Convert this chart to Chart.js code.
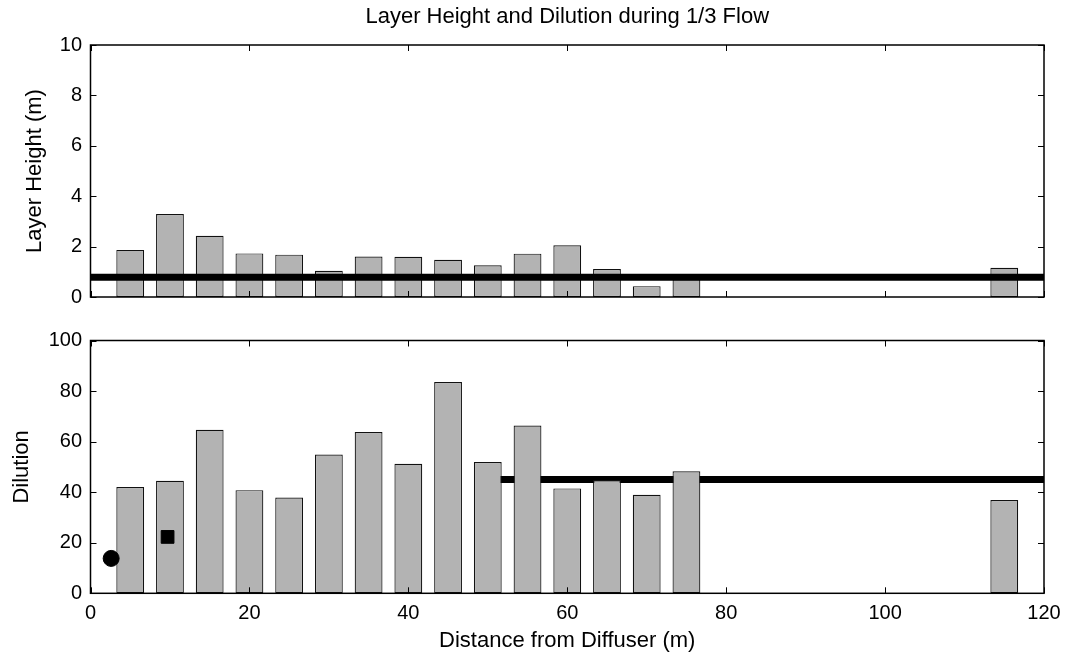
<!DOCTYPE html>
<html lang="en">
<head>
<meta charset="UTF-8">
<title>Layer Height and Dilution during 1/3 Flow</title>
<script src="https://cdn.jsdelivr.net/npm/chart.js"></script>
<style>
  html, body { margin: 0; padding: 0; background: #fff; }
  #wrap { position: relative; width: 1067px; height: 656px; }
  #wrap canvas { position: absolute; left: 0; }
  #heightChart { top: 0; }
  #dilutionChart { top: 320px; }
</style>
</head>
<body>
<div id="wrap">
  <canvas id="heightChart" width="1067" height="320"></canvas>
  <canvas id="dilutionChart" width="1067" height="336"></canvas>
</div>
<script>
// measurement stations along the outfall (m)
const distance    = [5, 10, 15, 20, 25, 30, 35, 40, 45, 50, 55, 60, 65, 70, 75, 80, 85, 90, 95, 100, 105, 110, 115];
const layerHeight = [1.87, 3.29, 2.43, 1.73, 1.68, 1.04, 1.61, 1.60, 1.48, 1.26, 1.72, 2.05, 1.11, 0.43, 0.70, 0, 0, 0, 0, 0, 0, 0, 1.16];
const dilution    = [42.0, 44.5, 64.7, 40.8, 37.9, 54.9, 63.8, 51.2, 83.6, 51.9, 66.4, 41.5, 44.8, 39.0, 48.3, 0, 0, 0, 0, 0, 0, 0, 36.9];

// predicted values (horizontal lines)
const predHeight      = 0.78;
const predHeightX     = [0, 120];
const predDilution    = 45;
const predDilutionX   = [50, 120];

// near-field points [x, y]
const circlePoint = [2.6, 13.8];
const squarePoint = [9.7, 22.3];

const xTicks        = [0, 20, 40, 60, 80, 100, 120];
const heightTicks   = [0, 2, 4, 6, 8, 10];
const dilutionTicks = [0, 20, 40, 60, 80, 100];

Chart.defaults.font.family = '"Liberation Sans", Arial, sans-serif';
Chart.defaults.color = '#000';

const BAR_FILL = '#b3b3b3';
const TICK_LEN = 6;

// box around the plot area with inward tick marks on all four sides
const framePlugin = {
  id: 'frame',
  afterDatasetsDraw(chart) {
    const { ctx, chartArea: a, scales } = chart;
    ctx.save();
    ctx.strokeStyle = '#000';
    ctx.lineWidth = 1;
    ctx.beginPath();
    scales.x.ticks.forEach(t => {
      const px = Math.round(scales.x.getPixelForValue(t.value)) + 0.5;
      ctx.moveTo(px, a.bottom); ctx.lineTo(px, a.bottom - TICK_LEN);
      ctx.moveTo(px, a.top);    ctx.lineTo(px, a.top + TICK_LEN);
    });
    scales.y.ticks.forEach(t => {
      const py = Math.round(scales.y.getPixelForValue(t.value)) + 0.5;
      ctx.moveTo(a.left, py);  ctx.lineTo(a.left + TICK_LEN, py);
      ctx.moveTo(a.right, py); ctx.lineTo(a.right - TICK_LEN, py);
    });
    ctx.stroke();
    ctx.lineWidth = 1.5;
    ctx.strokeRect(a.left, a.top, a.right - a.left, a.bottom - a.top);
    ctx.restore();
  }
};

// figure title centred over the plot area
const plotTitlePlugin = {
  id: 'plotTitle',
  afterDraw(chart, args, opts) {
    if (!opts.text) return;
    const { ctx, chartArea: a } = chart;
    ctx.save();
    ctx.font = opts.size + 'px ' + Chart.defaults.font.family;
    ctx.fillStyle = '#000';
    ctx.textAlign = 'center';
    ctx.textBaseline = 'middle';
    ctx.fillText(opts.text, (a.left + a.right) / 2, opts.y);
    ctx.restore();
  }
};

function setTicks(values) {
  return scale => { scale.ticks = values.map(v => ({ value: v })); };
}

function barSet(values, order) {
  return {
    type: 'bar',
    data: distance.map((x, i) => ({ x, y: values[i] })),
    backgroundColor: BAR_FILL,
    borderColor: '#111',
    borderWidth: 1.2,
    borderSkipped: false,
    barPercentage: 0.7,
    categoryPercentage: 1,
    order
  };
}

function hLine(xs, y, order) {
  return {
    type: 'line',
    data: xs.map(x => ({ x, y })),
    borderColor: '#000',
    borderWidth: 7,
    pointRadius: 0,
    order
  };
}

new Chart(document.getElementById('heightChart'), {
  type: 'bar',
  data: {
    datasets: [
      hLine(predHeightX, predHeight, 0),
      barSet(layerHeight, 1)
    ]
  },
  options: {
    responsive: false,
    animation: false,
    layout: { padding: { left: 0, right: 23, top: 45, bottom: 23 } },
    plugins: {
      legend: { display: false },
      tooltip: { enabled: false },
      plotTitle: { text: 'Layer Height and Dilution during 1/3 Flow', size: 22, y: 17 }
    },
    scales: {
      x: {
        type: 'linear', min: 0, max: 120, offset: false,
        afterBuildTicks: setTicks(xTicks),
        grid: { display: false, drawTicks: false },
        border: { display: false },
        ticks: { display: false }
      },
      y: {
        min: 0, max: 10,
        afterBuildTicks: setTicks(heightTicks),
        afterFit: s => { s.width = 90.5; },
        grid: { display: false, drawTicks: false },
        border: { display: false },
        ticks: { font: { size: 20 }, padding: 8.5 },
        title: { display: true, text: 'Layer Height (m)', font: { size: 22 }, padding: { top: 22, bottom: 0 } }
      }
    }
  },
  plugins: [framePlugin, plotTitlePlugin]
});

new Chart(document.getElementById('dilutionChart'), {
  type: 'bar',
  data: {
    datasets: [
      {
        type: 'line',
        data: [{ x: circlePoint[0], y: circlePoint[1] }],
        showLine: false,
        pointStyle: 'circle',
        pointRadius: 8,
        backgroundColor: '#000',
        borderColor: '#000',
        order: 0
      },
      {
        type: 'line',
        data: [{ x: squarePoint[0], y: squarePoint[1] }],
        showLine: false,
        pointStyle: 'rect',
        pointRadius: 9,
        backgroundColor: '#000',
        borderColor: '#000',
        order: 0
      },
      barSet(dilution, 1),
      hLine(predDilutionX, predDilution, 2)
    ]
  },
  options: {
    responsive: false,
    animation: false,
    layout: { padding: { left: 0, right: 23, top: 20, bottom: 0 } },
    plugins: {
      legend: { display: false },
      tooltip: { enabled: false }
    },
    scales: {
      x: {
        type: 'linear', min: 0, max: 120, offset: false,
        afterBuildTicks: setTicks(xTicks),
        afterFit: s => { s.height = 62.7; s.paddingLeft = 0; s.paddingRight = 0; },
        grid: { display: false, drawTicks: false },
        border: { display: false },
        ticks: { font: { size: 20 }, padding: 8, maxRotation: 0 },
        title: { display: true, text: 'Distance from Diffuser (m)', font: { size: 22 }, padding: { top: 0, bottom: 2 } }
      },
      y: {
        min: 0, max: 100,
        afterBuildTicks: setTicks(dilutionTicks),
        afterFit: s => { s.width = 90.5; },
        grid: { display: false, drawTicks: false },
        border: { display: false },
        ticks: { font: { size: 20 }, padding: 8.5 },
        title: { display: true, text: 'Dilution', font: { size: 22 }, padding: { top: 8.5, bottom: 0 } }
      }
    }
  },
  plugins: [framePlugin]
});
</script>
</body>
</html>
